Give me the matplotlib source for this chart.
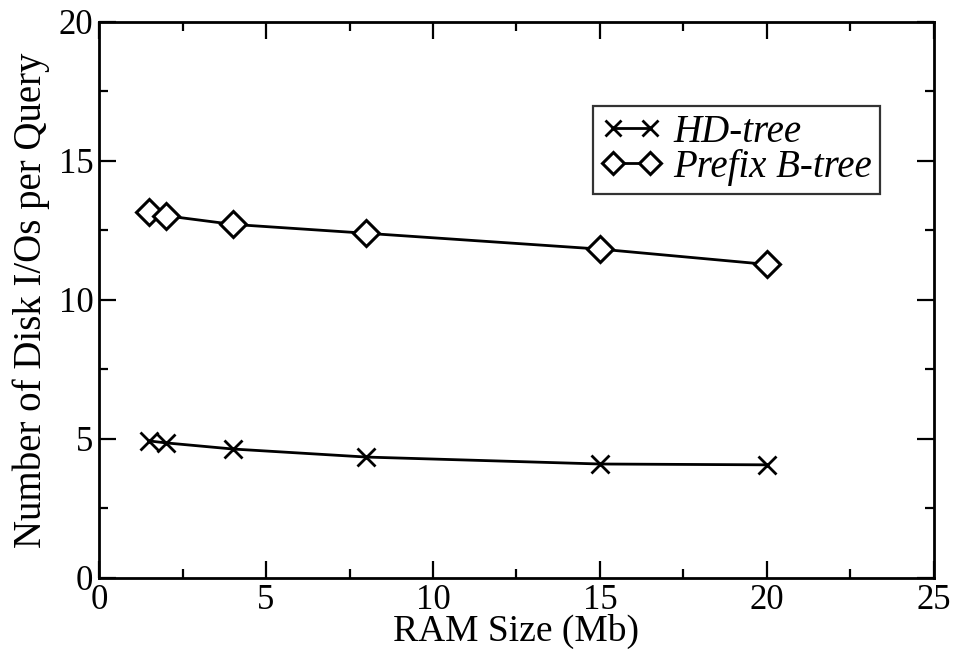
import matplotlib
matplotlib.use("Agg")
import matplotlib.pyplot as plt
from matplotlib.ticker import MultipleLocator

plt.rcParams['font.family'] = ['Liberation Serif', 'DejaVu Serif']

ram_mb = [1.5, 2, 4, 8, 15, 20]
hd_tree = [4.93, 4.86, 4.64, 4.35, 4.10, 4.07]
prefix_btree = [13.17, 13.03, 12.72, 12.40, 11.83, 11.28]

fig = plt.figure(figsize=(9.54, 6.58), dpi=100)
ax = fig.add_axes([0.1038, 0.1216, 0.8752, 0.845])

ax.plot(ram_mb, hd_tree, color='black', lw=2, marker='x', ms=13, mew=2,
        label='HD-tree')
ax.plot(ram_mb, prefix_btree, color='black', lw=2, marker='D', ms=13, mew=2.2,
        mfc='white', label='Prefix B-tree')

ax.set_xlim(0, 25)
ax.set_ylim(0, 20)
ax.xaxis.set_major_locator(MultipleLocator(5))
ax.xaxis.set_minor_locator(MultipleLocator(2.5))
ax.yaxis.set_major_locator(MultipleLocator(5))
ax.yaxis.set_minor_locator(MultipleLocator(2.5))
ax.tick_params(which='both', direction='in', top=True, right=True, width=1.6,
               labelsize=25, pad=4)
ax.tick_params(which='major', length=12)
ax.tick_params(which='minor', length=6.5)
for s in ax.spines.values():
    s.set_linewidth(2)

ax.set_xlabel('RAM Size (Mb)', fontsize=27, labelpad=-2)
ax.set_ylabel('Number of Disk I/Os per Query', fontsize=28, labelpad=6)

leg = ax.legend(loc='upper right', bbox_to_anchor=(0.935, 0.849),
                prop={'style': 'italic', 'size': 28}, frameon=True,
                fancybox=False, edgecolor='black', numpoints=2,
                markerscale=0.85, handlelength=1.55, handletextpad=0.3,
                borderpad=0.2, labelspacing=-0.05, borderaxespad=0)
leg.get_frame().set_linewidth(1.6)

fig.savefig('out.png', dpi=100)
